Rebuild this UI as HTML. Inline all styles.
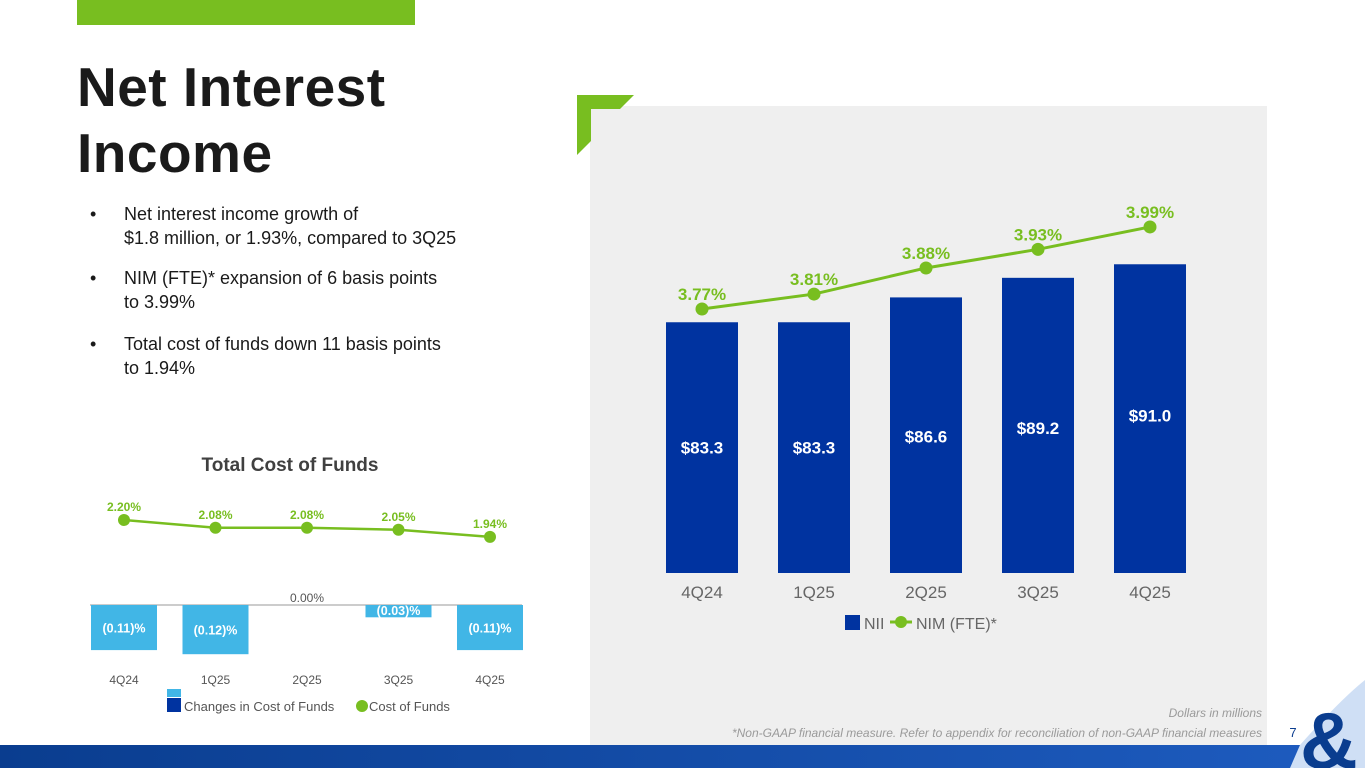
<!DOCTYPE html>
<html><head><meta charset="utf-8">
<style>
body{margin:0;width:1365px;height:768px;overflow:hidden;background:#fff;font-family:"Liberation Sans",sans-serif;position:relative}
.abs{position:absolute}
.b{position:absolute;left:90px;font-size:18px;color:#1a1a1a;line-height:24px}
.b span{position:absolute;left:0}
.b div{margin-left:34px}
</style></head><body>
<div class="abs" style="left:77px;top:0;width:338px;height:25px;background:#78be20"></div>
<div class="abs" style="left:77px;top:54px;font-size:55px;font-weight:bold;line-height:66px;color:#1a1a1a;letter-spacing:0.5px">Net Interest<br>Income</div>
<div class="b" style="top:202px"><span>•</span><div>Net interest income growth of<br>$1.8 million, or 1.93%, compared to 3Q25</div></div>
<div class="b" style="top:266px"><span>•</span><div>NIM (FTE)* expansion of 6 basis points<br>to 3.99%</div></div>
<div class="b" style="top:332px"><span>•</span><div>Total cost of funds down 11 basis points<br>to 1.94%</div></div>

<div class="abs" style="left:590px;top:106px;width:677px;height:639px;background:#efefef"></div>
<svg class="abs" style="left:0;top:0" width="1365" height="768" id="svg">
<polygon points="577,95 634,95 620,109 591,109 591,141 577,155" fill="#78be20"/>
<defs><linearGradient id="bg" x1="0" x2="1"><stop offset="0" stop-color="#0a3d8f"/><stop offset="1" stop-color="#1e5cc0"/></linearGradient></defs>
<rect x="0" y="745" width="1365" height="23" fill="url(#bg)"/>
<path d="M1300,745 Q1340,700 1365,680 L1365,768 L1290,768 Z" fill="#cfdff5"/>
<text x="1300" y="768" font-size="80" font-weight="bold" fill="#0a3d8f" font-family="Liberation Sans">&amp;</text>
<text x="1262" y="717" text-anchor="end" font-size="12" font-style="italic" fill="#9a9a9a">Dollars in millions</text>
<text x="1262" y="737" text-anchor="end" font-size="12" font-style="italic" fill="#9a9a9a">*Non-GAAP financial measure. Refer to appendix for reconciliation of non-GAAP financial measures</text>
<text x="1293" y="737" text-anchor="middle" font-size="13" fill="#0a3d8f">7</text>
<text x="290" y="471" text-anchor="middle" font-size="19" font-weight="bold" fill="#404040">Total Cost of Funds</text>
</svg>
<script>
const quarters=["4Q24","1Q25","2Q25","3Q25","4Q25"];
const nii=[83.3,83.3,86.6,89.2,91.0];
const nim=[3.77,3.81,3.88,3.93,3.99];
const cofChange=[-0.11,-0.12,0.00,-0.03,-0.11];
const cof=[2.20,2.08,2.08,2.05,1.94];
const svg=document.getElementById('svg');
const NS="http://www.w3.org/2000/svg";
function mk(tag,attrs,txt){const e=document.createElementNS(NS,tag);for(const k in attrs)e.setAttribute(k,attrs[k]);if(txt!==undefined)e.textContent=txt;svg.appendChild(e);return e;}
const mx=i=>702+i*112;
const my=v=>573-(v-50)*7.53;
const ny=v=>309-(v-3.77)*373;
nii.forEach((v,i)=>{
 const r=mk('rect',{x:mx(i)-36,y:my(v),width:72,height:573-my(v),fill:'#0033a0'});
 
 
 const t=mk('text',{x:mx(i),y:my(v)+(i<2?131:i==2?145:i==3?156:157),'text-anchor':'middle','font-size':17,'font-weight':'bold',fill:'#fff'},'$'+v.toFixed(1));
 
 
 const x=mk('text',{x:mx(i),y:598,'text-anchor':'middle','font-size':17,fill:'#666'},quarters[i]);
 
 
});
const pl=mk('polyline',{points:nim.map((v,i)=>mx(i)+','+ny(v)).join(' '),fill:'none',stroke:'#78be20','stroke-width':3});


nim.forEach((v,i)=>{
 const c=mk('circle',{cx:mx(i),cy:ny(v),r:6.5,fill:'#78be20'});
 
 
 const t=mk('text',{x:mx(i),y:ny(v)-9,'text-anchor':'middle','font-size':17,'font-weight':'bold',fill:'#78be20'},v.toFixed(2)+'%');
 
 
});
let e;
e=mk('rect',{x:845,y:615,width:15,height:15,fill:'#0033a0'});
e=mk('text',{x:864,y:629,'font-size':16,fill:'#666'},'NII');
e=mk('line',{x1:890,y1:622,x2:912,y2:622,stroke:'#78be20','stroke-width':3});
e=mk('circle',{cx:901,cy:622,r:6,fill:'#78be20'});
e=mk('text',{x:916,y:629,'font-size':16,fill:'#666'},'NIM (FTE)*');
const cx=i=>124+i*91.5;
const zy=605;
const by=v=>zy-v*410;
const ly=v=>520+(2.20-v)*65;
e=mk('line',{x1:90,y1:zy,x2:522,y2:zy,stroke:'#999','stroke-width':1});
cofChange.forEach((v,i)=>{
 const lbl=v===0?'0.00%':'('+Math.abs(v).toFixed(2)+')%';
 if(v!==0){
  const r=mk('rect',{x:cx(i)-33,y:zy,width:66,height:by(v)-zy,fill:'#41b6e6'});
  
  
  const t=mk('text',{x:cx(i),y:v>-0.05?zy+10:(zy+by(v))/2+5,'text-anchor':'middle','font-size':12.5,'font-weight':'bold',fill:'#fff'},lbl);
  
  
 } else {
  const t=mk('text',{x:cx(i),y:zy-3,'text-anchor':'middle','font-size':12,fill:'#555'},lbl);
  
  
 }
 const x=mk('text',{x:cx(i),y:684,'text-anchor':'middle','font-size':12,fill:'#555'},quarters[i]);
 
 
});
const pl2=mk('polyline',{points:cof.map((v,i)=>cx(i)+','+ly(v)).join(' '),fill:'none',stroke:'#78be20','stroke-width':2.5});


cof.forEach((v,i)=>{
 const c=mk('circle',{cx:cx(i),cy:ly(v),r:6,fill:'#78be20'});
 
 
 const t=mk('text',{x:cx(i),y:ly(v)-9,'text-anchor':'middle','font-size':12,'font-weight':'bold',fill:'#78be20'},v.toFixed(2)+'%');
 
 
});
e=mk('rect',{x:167,y:689,width:14,height:8,fill:'#41b6e6'});
e=mk('rect',{x:167,y:698,width:14,height:14,fill:'#0033a0'});
e=mk('text',{x:184,y:711,'font-size':13,fill:'#555'},'Changes in Cost of Funds');
e=mk('circle',{cx:362,cy:706,r:6,fill:'#78be20'});
e=mk('text',{x:369,y:711,'font-size':13,fill:'#555'},'Cost of Funds');
</script>
</body></html>
